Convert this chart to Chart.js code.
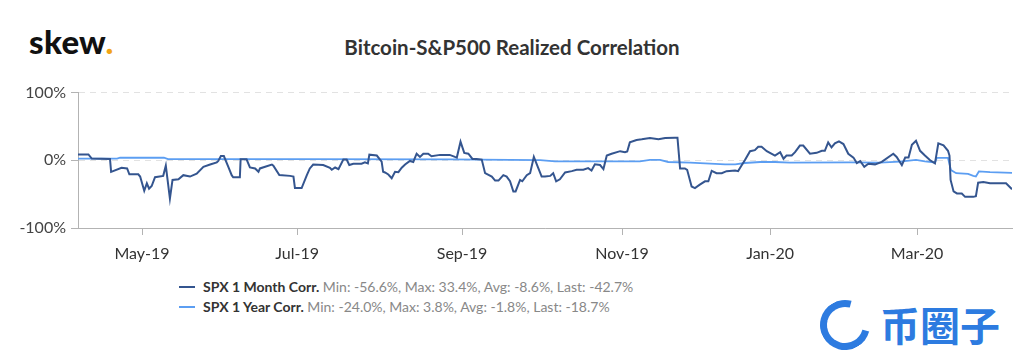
<!DOCTYPE html>
<html>
<head>
<meta charset="utf-8">
<script src="https://cdn.jsdelivr.net/npm/chart.js@4.4.1/dist/chart.umd.min.js"></script>
<style>
  html, body { margin: 0; padding: 0; background: #fff; }
  body { width: 1024px; height: 356px; position: relative; overflow: hidden; font-family: Lato, "Open Sans", sans-serif; }
  #logo { position: absolute; left: 29px; top: 21px; font: 900 33px Lato, sans-serif; color: #111; letter-spacing: 0.3px; }
  #logo span { color: #f2a516; }
  #title { position: absolute; left: 0; width: 1024px; top: 35px; text-align: center; font: bold 20.5px Lato, sans-serif; color: #333; }
  #wrap { position: absolute; left: 0; top: 78px; width: 1024px; height: 192px; }
  #legend { position: absolute; left: 179px; top: 277px; font: 14px Lato, sans-serif; color: #888; }
  .row { height: 20px; line-height: 20px; white-space: nowrap; }
  .sw { display: inline-block; width: 16px; height: 2px; vertical-align: middle; margin-right: 8px; position: relative; top: -1px; }
  .row b { color: #333; font-weight: bold; }
  #wm { position: absolute; left: 818px; top: 298px; height: 52px; }
  #wm .icon { position: absolute; left: 2px; top: 2px; width: 36px; height: 36px; border: 7px solid #2d7be0; border-radius: 50%; border-right-color: transparent; transform: rotate(-30deg); }
  #wm .txt { position: absolute; left: 62px; top: 2px; font: bold 40px "Noto Sans CJK SC", sans-serif; color: #2d7be0; line-height: 48px; white-space: nowrap; }
</style>
</head>
<body>
<div id="logo">skew<span>.</span></div>
<div id="title">Bitcoin-S&amp;P500 Realized Correlation</div>
<div id="wrap"><canvas id="c"></canvas></div>
<div id="legend">
  <div class="row"><span class="sw" style="background:#34558f"></span><b>SPX 1 Month Corr.</b> Min: -56.6%, Max: 33.4%, Avg: -8.6%, Last: -42.7%</div>
  <div class="row"><span class="sw" style="background:#5c9ef2"></span><b>SPX 1 Year Corr.</b> Min: -24.0%, Max: 3.8%, Avg: -1.8%, Last: -18.7%</div>
</div>
<div id="wm"><div class="icon"></div><div class="txt">币圈子</div></div>
<script>
// session index (trading days since early Apr-2019) and correlation values in %
const monthX = [0,2.8,3.7,8.6,8.9,11.7,13.2,13.8,16.2,16.7,17.8,18.5,19.1,19.8,20.7,22.9,23.6,24.7,25.4,27,28.3,30.1,31.9,33.7,35.5,37.3,37.7,38.4,39.2,40.4,41.3,41.7,43.5,43.7,45.3,46.2,47.6,48.5,48.9,52.1,52.5,54.1,57,57.9,58.3,60.1,61.5,62.3,63.2,65.9,67.7,68.2,69.1,70,71.3,72.2,72.9,74,76.2,77.1,77.9,78.3,80.3,81.6,82,82.5,83.4,84.3,85.2,86.1,87,87.9,89.2,90.1,91,91.9,92.8,94.1,95,97.3,99.9,101.3,101.8,102.8,103.8,104.9,106,107.1,108.5,109.4,111.2,112.1,113,114.3,115.2,116.1,117,117.6,118.8,119.4,120.6,121.5,122.5,123.7,124.6,125.5,126.9,127.7,128.5,129.5,130.9,132.7,134,135.8,137.1,138,138.9,140.3,141.2,142.1,143.4,145.7,147,147.6,148.3,150.1,151.5,153.7,156,157.8,160.4,161.1,161.8,163.1,163.7,164.9,165.8,167.1,168.5,169.4,170.3,171.6,173,174.3,176.6,177.4,178.4,179.2,180.6,181.9,182.8,183.7,185.1,187.3,188.7,189.6,190.4,191.8,192.7,194,194.9,196.7,198.5,199.9,200.7,201.6,202.5,203.4,204.5,205.7,207,208.4,209.3,210.2,211.3,212.4,214.2,216,219.1,220,221.4,222.3,223.2,224.1,225.2,226.3,227.6,229,230.3,231.2,232.6,233.8,234.2,234.5,235.3,236.2,237.5,238.4,240.6,241.3,241.9,243.3,245.1,248.7,249.4,251];
const monthCorr = [8.7,8.7,2.5,2,-17,-11,-12,-20.7,-20.7,-24,-45,-34,-42,-38,-25,-23,-8,-56.6,-29,-28,-22,-24,-19.8,-9.7,-6.3,-3,-1,6.3,6.3,-9.7,-22,-25,-25,1.4,1.4,-10.6,-12,-17,-12,-6.3,-8,-21.7,-23,-24,-41,-41,-22,-12,-6.3,-7,-11,-14,-10.6,-13,1,1,-7,-5,-5,-3,-4.5,8.3,7,-2,-17,-18,-21,-26.5,-17,-17.5,-11,-6.3,-1,-2.5,9.7,5,9.7,9.7,6,8,8,5,4,27.5,11,9.7,2,2,1,-19,-24,-30,-30,-22,-24,-31,-46,-46,-29,-31,-22,-19,5,-11.6,-24,-24,-23,-19,-31,-28,-18,-16,-14,-14,-11.6,-15,-5.8,-7,-13,7,9.7,13.5,12,13,26.5,30,31,33,31,33,33.4,33.4,-12,-12,-14,-38.7,-41,-36,-31,-31,-15.5,-19,-19,-16,-15,-16,-7,0,13.5,15,20,20,13.5,7,12,2.4,7,7,12,21.7,21.7,9.7,11,14,14,26.5,19,25,28,24,9.7,4,-4,-1,-9.7,-5,-6,-2.4,9.7,5,-7,4,4,23,29,14,7,0,-4.6,25,22,14,7,-29,-46,-49,-49,-54,-54,-53,-33,-32,-34,-34,-34,-42.7];
const yearX = [0,10.5,11.3,23.1,24.2,59.7,100,124.2,128.2,151,153.7,156.4,158.6,164.5,168.5,173.9,176.6,179.2,183.3,187.3,191.3,207.5,215.5,220.9,225.2,227.6,230.3,230.8,233.8,234.6,236,239.2,240.6,241.3,242.1,245.1,251];
const yearCorr = [2.5,2.5,3.8,3.8,1.8,1.8,1.5,0.3,-1.5,-1.5,0.5,0.5,-2.5,-3.5,-4.5,-6,-6,-4,-2.5,-2.5,-3.3,-3,-3.5,-2,0.5,-1.5,-3.2,3.5,3.5,-14.5,-19,-20,-23,-24,-16.5,-17.5,-18.7];
const monthTickX = [17.2,58.9,103.2,146.2,186,225.5];
const monthTickLabels = ['May-19','Jul-19','Sep-19','Nov-19','Jan-20','Mar-20'];
const yTicks = [-100, 0, 100];

const toPts = (xs, ys) => xs.map((x, i) => ({x: x, y: ys[i]}));

new Chart(document.getElementById('c'), {
  type: 'line',
  data: {
    datasets: [
      { label: 'SPX 1 Month Corr.', data: toPts(monthX, monthCorr), borderColor: '#34558f', borderWidth: 2, pointRadius: 0, tension: 0, fill: false },
      { label: 'SPX 1 Year Corr.', data: toPts(yearX, yearCorr), borderColor: '#5c9ef2', borderWidth: 1.8, pointRadius: 0, tension: 0, fill: false }
    ]
  },
  options: {
    responsive: true,
    maintainAspectRatio: false,
    animation: false,
    devicePixelRatio: 1,
    layout: { padding: { top: 12, right: 12, left: 0, bottom: 0 } },
    plugins: { legend: { display: false }, title: { display: false }, tooltip: { enabled: false } },
    scales: {
      x: {
        type: 'linear', min: 0, max: 251,
        afterBuildTicks: s => { s.ticks = monthTickX.map(v => ({ value: v })); },
        afterFit: s => { s.height = 42; },
        ticks: {
          autoSkip: false, maxRotation: 0, padding: 9, color: '#333',
          font: { family: 'Lato', size: 16 },
          callback: (v, i) => monthTickLabels[i]
        },
        grid: { drawOnChartArea: false, drawTicks: true, tickLength: 7, tickColor: '#b3b3b3' },
        border: { display: true, color: '#b3b3b3', width: 1 }
      },
      y: {
        min: -100, max: 100,
        afterBuildTicks: s => { s.ticks = yTicks.map(v => ({ value: v })); },
        afterFit: s => { s.width = 78; },
        ticks: {
          padding: 5, color: '#444',
          font: { family: 'Lato', size: 16 },
          callback: v => v + '%'
        },
        grid: { color: '#e2e2e2', tickLength: 7, tickColor: '#b3b3b3', tickBorderDash: [] },
        border: { display: true, color: '#b3b3b3', width: 1, dash: [6, 5] }
      }
    }
  }
});
</script>
</body>
</html>
